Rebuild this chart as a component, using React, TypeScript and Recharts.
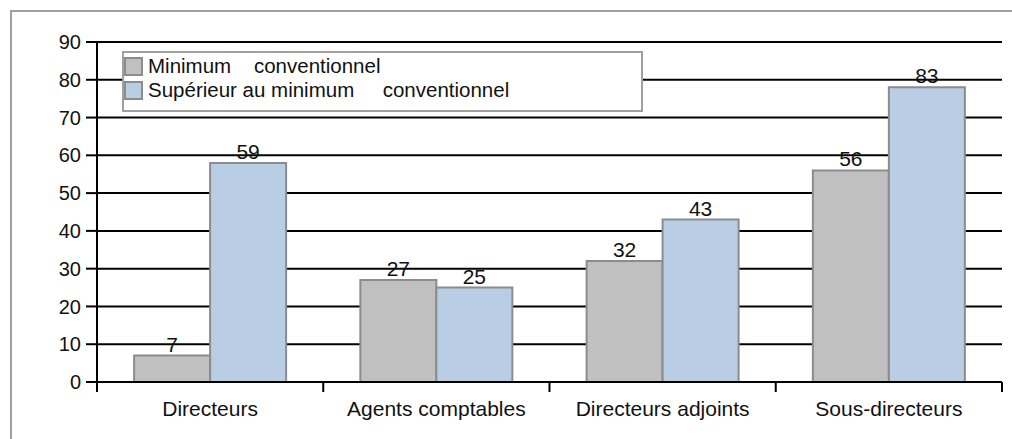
import React from 'react';
import {
  BarChart,
  Bar,
  XAxis,
  YAxis,
  CartesianGrid,
  Legend,
  LabelList,
} from 'recharts';

const categories = ['Directeurs', 'Agents comptables', 'Directeurs adjoints', 'Sous-directeurs'];
// bar heights as drawn in the picture
const minimumValues = [7, 27, 32, 56];
const superieurValues = [58, 25, 43, 78];
// numbers printed above the bars
const minimumLabels = [7, 27, 32, 56];
const superieurLabels = [59, 25, 43, 83];
const yTicks = [0, 10, 20, 30, 40, 50, 60, 70, 80, 90];

const SERIES = [
  { name: 'Minimum    conventionnel', color: '#c0c0c0' },
  { name: 'Supérieur au minimum     conventionnel', color: '#b9cde5' },
];

const FONT = '"Liberation Sans", Arial, sans-serif';
const BAR_STROKE = '#8c8c8c';
const FRAME = '#a0a0a0';

const data = categories.map((name, i) => ({
  name,
  minimum: minimumValues[i],
  superieur: superieurValues[i],
  minimumLabel: minimumLabels[i],
  superieurLabel: superieurLabels[i],
}));

function CategoryTick(props: any) {
  const { x, y, payload, index, visibleTicksCount } = props;
  const half = payload && typeof payload.offset === 'number' ? payload.offset : 113;
  const last = index === (visibleTicksCount ?? categories.length) - 1;
  return (
    <g>
      <line x1={x - half} y1={y} x2={x - half} y2={y + 10} stroke="#000" strokeWidth={2} />
      {last && <line x1={x + half} y1={y} x2={x + half} y2={y + 10} stroke="#000" strokeWidth={2} />}
      <text x={x} y={y + 19} dy="0.71em" textAnchor="middle" fontSize={21} fill="#111" fontFamily={FONT}>
        {payload.value}
      </text>
    </g>
  );
}

function LegendBox() {
  return (
    <div
      style={{
        width: 521,
        height: 61,
        boxSizing: 'border-box',
        border: `2px solid ${FRAME}`,
        background: '#fff',
        paddingTop: 1,
        fontFamily: FONT,
        fontSize: 20.5,
        color: '#111',
      }}
    >
      {SERIES.map((s) => (
        <div key={s.name} style={{ display: 'flex', alignItems: 'center', height: 24 }}>
          <span
            style={{
              display: 'inline-block',
              width: 19,
              height: 19,
              boxSizing: 'border-box',
              background: s.color,
              border: `2px solid ${BAR_STROKE}`,
              marginRight: 5,
            }}
          />
          <span style={{ whiteSpace: 'pre', lineHeight: '24px' }}>{s.name}</span>
        </div>
      ))}
    </div>
  );
}

export default function App() {
  return (
    <div style={{ position: 'fixed', left: 0, top: 0, width: 1012, height: 439, background: '#fff', overflow: 'hidden' }}>
      {/* outer frame: only the top and left edges are inside the picture */}
      <div style={{ position: 'absolute', left: 10, top: 10, width: 1002, height: 2, background: FRAME }} />
      <div style={{ position: 'absolute', left: 10, top: 10, width: 2, height: 429, background: FRAME }} />
      <div style={{ position: 'absolute', left: 0, top: 0 }}>
        <BarChart
          width={1012}
          height={439}
          data={data}
          margin={{ top: 42, right: 10, left: 0, bottom: 27 }}
          barCategoryGap="16.4%"
          barGap={0}
        >
          <CartesianGrid vertical={false} stroke="#000" strokeWidth={2} />
          <XAxis
            dataKey="name"
            height={30}
            axisLine={{ stroke: '#000', strokeWidth: 2 }}
            tickLine={false}
            tickSize={0}
            tickMargin={0}
            tick={<CategoryTick />}
            interval={0}
          />
          <YAxis
            width={97}
            domain={[0, 90]}
            ticks={yTicks}
            interval={0}
            axisLine={{ stroke: '#000', strokeWidth: 2 }}
            tickLine={{ stroke: '#000', strokeWidth: 2 }}
            tickSize={11}
            tickMargin={5}
            tick={{ fontSize: 20, fill: '#111', fontFamily: FONT }}
          />
          <Legend
            layout="vertical"
            align="center"
            verticalAlign="middle"
            wrapperStyle={{ left: 122, top: 51, width: 521, height: 61 }}
            content={<LegendBox />}
          />
          <Bar
            dataKey="minimum"
            name={SERIES[0].name}
            fill={SERIES[0].color}
            stroke={BAR_STROKE}
            strokeWidth={2}
            isAnimationActive={false}
          >
            <LabelList dataKey="minimumLabel" position="top" offset={4} fontSize={21} fill="#111" fontFamily={FONT} />
          </Bar>
          <Bar
            dataKey="superieur"
            name={SERIES[1].name}
            fill={SERIES[1].color}
            stroke={BAR_STROKE}
            strokeWidth={2}
            isAnimationActive={false}
          >
            <LabelList dataKey="superieurLabel" position="top" offset={4} fontSize={21} fill="#111" fontFamily={FONT} />
          </Bar>
        </BarChart>
      </div>
    </div>
  );
}
